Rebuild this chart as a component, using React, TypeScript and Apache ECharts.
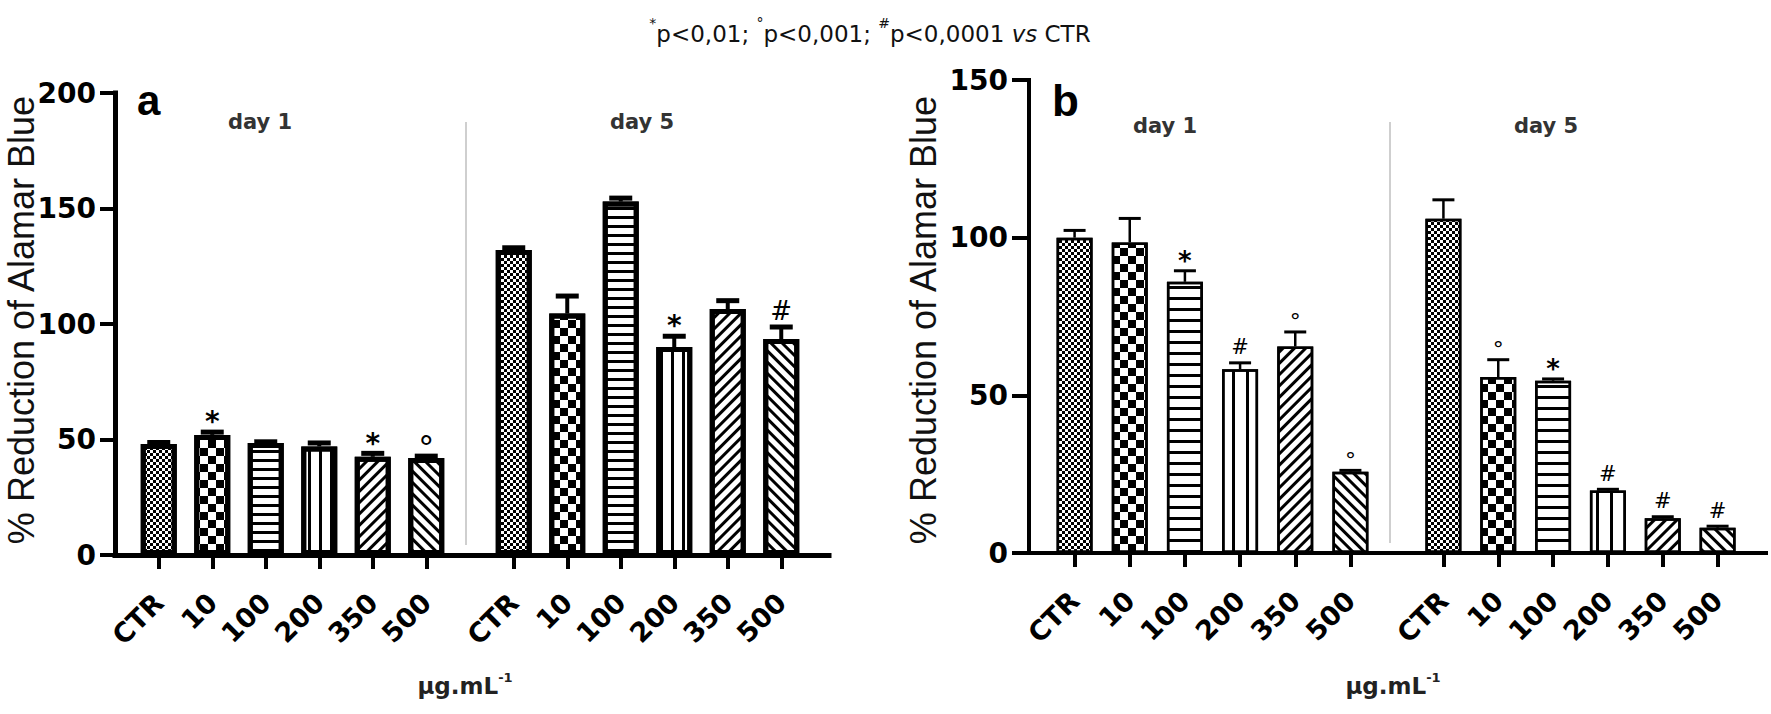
import React, { useEffect, useRef } from "react";
import * as echarts from "echarts";

// ---------- data ----------
const doses = ["CTR", "10", "100", "200", "350", "500"];

// panel a
const aDay1 = [48, 52, 48.5, 47, 42.5, 42];
const aDay1Err = [0.7, 1.2, 0.5, 1.5, 1.5, 0.8];
const aDay1Sig = ["", "*", "", "", "*", "°"];
const aDay5 = [132, 104.5, 153, 90, 106.5, 93.5];
const aDay5Err = [1, 7.6, 1.5, 4.7, 3.6, 5.2];
const aDay5Sig = ["", "", "", "*", "", "#"];
const aTicks = { min: 0, max: 200, interval: 50 };

// panel b
const bDay1 = [100, 98.5, 86, 58.3, 65.5, 25.8];
const bDay1Err = [2.3, 7.6, 3.5, 2, 4.6, 0.4];
const bDay1Sig = ["", "", "*", "#", "°", "°"];
const bDay5 = [106, 55.8, 54.6, 19.8, 11, 8];
const bDay5Err = [6, 5.5, 0.6, 0.4, 0.5, 0.5];
const bDay5Sig = ["", "°", "*", "#", "#", "#"];
const bTicks = { min: 0, max: 150, interval: 50 };

const yTitle = "% Reduction of Alamar Blue";
const unitLabel = "{n|µg.mL}{s|-1}";
const titleText = "{s|*}{n|p<0,01; }{s|°}{n|p<0,001; }{s|#}{n|p<0,0001 }{i|vs}{n| CTR}";

// ---------- styles ----------
const dec = (o: any) => ({ symbol: "rect", symbolSize: 1, color: "#000", rotation: 0, ...o });
const patterns = (big: boolean) => [
  dec({ dashArrayX: [[3, 3], [0, 3, 3, 0]], dashArrayY: [3, 0] }),
  dec({ dashArrayX: [[8, 8], [0, 8, 8, 0]], dashArrayY: [8, 0] }),
  dec({ dashArrayX: [1, 0], dashArrayY: big ? [3, 6] : [3, 8] }),
  dec({ dashArrayX: big ? [3, 8] : [2.5, 11], dashArrayY: [1, 0] }),
  dec({ dashArrayX: [1, 0], dashArrayY: [2.5, 4.5], rotation: -Math.PI / 4 }),
  dec({ dashArrayX: [1, 0], dashArrayY: [2.5, 4.5], rotation: Math.PI / 4 }),
];

const FONT = "DejaVu Sans";

function errRender(sigs: string[], cfg: any) {
  return (params: any, api: any) => {
    const i = api.value(0);
    const v = api.value(1);
    const e = api.value(2);
    const p0 = api.coord([i, v]);
    const p1 = api.coord([i, v + e]);
    const h = cfg.capW / 2;
    const ch: any[] = [
      { type: "line", shape: { x1: p0[0], y1: p0[1], x2: p1[0], y2: p1[1] }, style: { stroke: "#000", lineWidth: cfg.stemW } },
      { type: "line", shape: { x1: p1[0] - h, y1: p1[1], x2: p1[0] + h, y2: p1[1] }, style: { stroke: "#000", lineWidth: cfg.capLw } },
    ];
    const s = sigs[params.dataIndex];
    if (s) {
      const f = cfg.sig[s];
      ch.push({
        type: "text",
        x: p1[0],
        y: p1[1] - cfg.gap + f.off * f.size,
        style: { text: s, fontSize: f.size, fontFamily: FONT, fontWeight: f.weight, fill: "#000", align: "center", verticalAlign: "middle" },
      });
    }
    return { type: "group", children: ch };
  };
}

export default function App() {
  const ref = useRef<HTMLDivElement>(null);
  useEffect(() => {
    const chart = echarts.init(ref.current!, null, { renderer: "svg" });

    const panels = [
      {
        frame: { left: 115, top: 93, width: 714, height: 462 },
        d1: { left: 132, width: 321 },
        d5: { left: 487, width: 321 },
        ticks: aTicks, tickLen: 15, labelMargin: 19, axisW: 5,
        days: [[aDay1, aDay1Err, aDay1Sig], [aDay5, aDay5Err, aDay5Sig]],
        barWidth: 36, border: 5, big: true,
        cfg: {
          capW: 23, stemW: 4, capLw: 5, gap: 17,
          sig: { "*": { size: 28, weight: "bold", off: 0.24 }, "#": { size: 26, weight: "normal", off: 0.02 }, "°": { size: 32, weight: "normal", off: 0.27 } },
        },
      },
      {
        frame: { left: 1029, top: 80, width: 737, height: 473 },
        d1: { left: 1047, width: 331 },
        d5: { left: 1416, width: 329 },
        ticks: bTicks, tickLen: 17, labelMargin: 21, axisW: 4,
        days: [[bDay1, bDay1Err, bDay1Sig], [bDay5, bDay5Err, bDay5Sig]],
        barWidth: 36, border: 2.5, big: false,
        cfg: {
          capW: 22, stemW: 2.5, capLw: 3, gap: 16,
          sig: { "*": { size: 26, weight: "bold", off: 0.24 }, "#": { size: 21, weight: "normal", off: 0.02 }, "°": { size: 22, weight: "normal", off: 0.27 } },
        },
      },
    ];

    const grid: any[] = [];
    const xAxis: any[] = [];
    const yAxis: any[] = [];
    const series: any[] = [];

    panels.forEach((p) => {
      const fi = grid.length;
      grid.push({ ...p.frame });
      xAxis.push({
        type: "value", gridIndex: fi, min: 0, max: 1,
        axisLine: { show: true, lineStyle: { color: "#000", width: p.axisW, cap: "square" } },
        axisTick: { show: false }, axisLabel: { show: false }, splitLine: { show: false },
      });
      yAxis.push({
        type: "value", gridIndex: fi, min: p.ticks.min, max: p.ticks.max, interval: p.ticks.interval,
        axisLine: { show: true, lineStyle: { color: "#000", width: p.axisW, cap: "square" } },
        axisTick: { show: true, length: p.tickLen, lineStyle: { color: "#000", width: 4 } },
        axisLabel: { margin: p.labelMargin, fontFamily: FONT, fontWeight: "bold", fontSize: 28, color: "#000" },
        splitLine: { show: false },
      });
      [p.d1, p.d5].forEach((g, di) => {
        const gi = grid.length;
        grid.push({ left: g.left, width: g.width, top: p.frame.top, height: p.frame.height });
        xAxis.push({
          type: "category", gridIndex: gi, data: doses,
          axisLine: { show: false },
          axisTick: { show: true, alignWithLabel: true, interval: 0, length: 14, lineStyle: { color: "#000", width: 4 } },
          axisLabel: { interval: 0, rotate: 45, margin: 43, fontFamily: FONT, fontWeight: "bold", fontSize: 27, color: "#000" },
        });
        yAxis.push({ type: "value", gridIndex: gi, min: p.ticks.min, max: p.ticks.max, show: false });
        const [vals, errs, sigs] = p.days[di] as [number[], number[], string[]];
        const pats = patterns(p.big);
        series.push({
          type: "bar", xAxisIndex: gi, yAxisIndex: gi, barWidth: p.barWidth,
          itemStyle: { color: "#fff", borderColor: "#000", borderWidth: p.border },
          data: vals.map((v, i) => ({ value: v, itemStyle: { decal: pats[i] } })),
          z: 2,
        });
        series.push({
          type: "custom", xAxisIndex: gi, yAxisIndex: gi, z: 3,
          encode: { x: 0, y: 1 },
          data: vals.map((v, i) => [i, v, errs[i]]),
          renderItem: errRender(sigs, p.cfg),
        });
      });
    });

    const txt = (x: number, y: number, style: any, extra: any = {}) => ({
      type: "text", x, y, silent: true, ...extra,
      style: { align: "center", verticalAlign: "middle", textAlign: "center", textVerticalAlign: "middle", fill: "#000", ...style },
    });

    const graphic: any[] = [
      txt(870, 34, {
        text: titleText,
        rich: {
          n: { fontFamily: FONT, fontSize: 23, lineHeight: 36, fill: "#111", color: "#111" },
          i: { fontFamily: FONT, fontSize: 23, lineHeight: 36, fontStyle: "italic", fill: "#111", color: "#111" },
          s: { fontFamily: FONT, fontSize: 14, lineHeight: 14, verticalAlign: "top", fill: "#111", color: "#111" },
        },
      }),
      txt(137, 100, { text: "a", fontFamily: "Liberation Sans", fontWeight: "bold", fontSize: 42, align: "left", textAlign: "left" }),
      txt(1052, 100, { text: "b", fontFamily: "Liberation Sans", fontWeight: "bold", fontSize: 44, align: "left", textAlign: "left" }),
      txt(260, 122, { text: "day 1", fontFamily: FONT, fontWeight: "bold", fontSize: 21, fill: "#333" }),
      txt(642, 122, { text: "day 5", fontFamily: FONT, fontWeight: "bold", fontSize: 21, fill: "#333" }),
      txt(1165, 126, { text: "day 1", fontFamily: FONT, fontWeight: "bold", fontSize: 21, fill: "#333" }),
      txt(1546, 126, { text: "day 5", fontFamily: FONT, fontWeight: "bold", fontSize: 21, fill: "#333" }),
      txt(21, 320, { text: yTitle, fontFamily: "Liberation Sans", fontSize: 36, fill: "#111" }, { rotation: Math.PI / 2 }),
      txt(923, 320, { text: yTitle, fontFamily: "Liberation Sans", fontSize: 36, fill: "#111" }, { rotation: Math.PI / 2 }),
      ...[465, 1393].map((x) =>
        txt(x, 686, {
          text: unitLabel,
          rich: {
            n: { fontFamily: FONT, fontWeight: "bold", fontSize: 23, lineHeight: 30, fill: "#222", color: "#222" },
            s: { fontFamily: FONT, fontWeight: "bold", fontSize: 13, lineHeight: 13, verticalAlign: "top", fill: "#222", color: "#222" },
          },
        })
      ),
      { type: "line", silent: true, shape: { x1: 466, y1: 122, x2: 466, y2: 545 }, style: { stroke: "#cfcfcf", lineWidth: 2 } },
      { type: "line", silent: true, shape: { x1: 1390, y1: 122, x2: 1390, y2: 543 }, style: { stroke: "#cfcfcf", lineWidth: 2 } },
    ];

    chart.setOption({ animation: false, backgroundColor: "#fff", grid, xAxis, yAxis, series, graphic });
    return () => chart.dispose();
  }, []);
  return <div ref={ref} style={{ position: "fixed", left: 0, top: 0, width: 1771, height: 714, background: "#fff" }} />;
}
